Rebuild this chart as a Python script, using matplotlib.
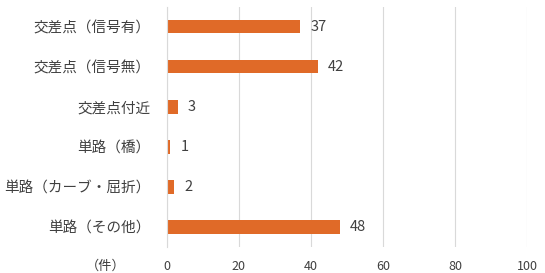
import matplotlib
matplotlib.use("Agg")
import matplotlib.pyplot as plt

plt.rcParams['font.family'] = ['Noto Sans CJK JP', 'DejaVu Sans']

categories = ["交差点（信号有）", "交差点（信号無）", "交差点付近", "単路（橋）", "単路（カーブ・屈折）", "単路（その他）"]
values = [37, 42, 3, 1, 2, 48]
xticks = [0, 20, 40, 60, 80, 100]
unit_label = "（件）"

fig = plt.figure(figsize=(5.45, 2.73), dpi=100)
ax = fig.add_axes([0.306, 0.095, 0.661, 0.88])

ypos = list(range(len(categories)))
ax.barh(ypos, values, height=0.33, color="#E06A28", zorder=3)
for y, v in zip(ypos, values):
    ax.text(v + 2.8, y, str(v), va="center", ha="left", fontsize=10.5, color="#404040")

ax.set_xlim(0, 100)
ax.set_ylim(len(categories) - 0.5, -0.5)
ax.set_yticks(ypos)
ax.set_yticklabels(categories, fontsize=10.5, color="#404040")
ax.set_xticks(xticks)
ax.set_xticklabels([str(t) for t in xticks], fontsize=9, color="#404040")
ax.tick_params(axis="both", length=0)
ax.tick_params(axis="x", pad=9.5)
ax.tick_params(axis="y", pad=12)
ax.xaxis.grid(True, color="#D9D9D9", linewidth=0.8, zorder=0)
for s in ["top", "right", "bottom"]:
    ax.spines[s].set_visible(False)
ax.spines["left"].set_color("#D9D9D9")
ax.spines["left"].set_zorder(4)

fig.text(106 / 545, 1 - 266 / 273, unit_label, ha="center", va="center", fontsize=9.5, color="#404040")

fig.savefig("out.png", dpi=100)
